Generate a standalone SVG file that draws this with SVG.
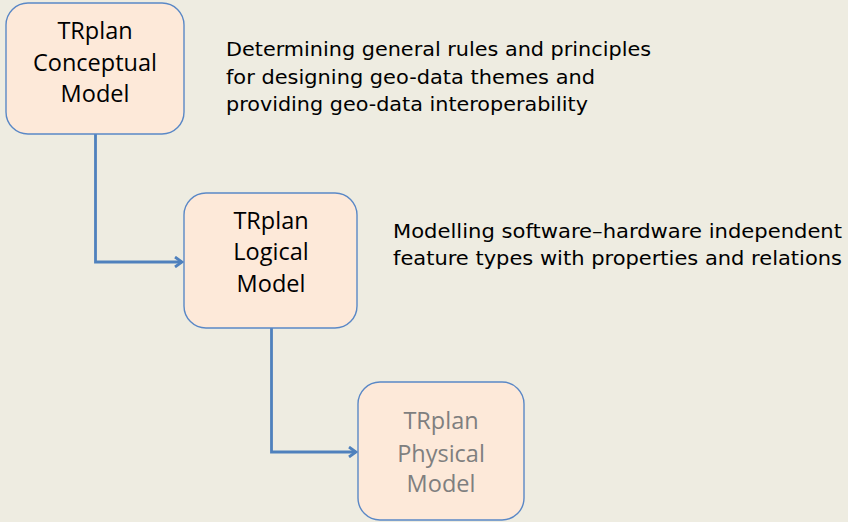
<svg xmlns="http://www.w3.org/2000/svg" width="848" height="522" viewBox="0 0 848 522">
<defs>
<style>
.box{fill:#fde9d9;stroke:#5a88c6;stroke-width:1.4}
.lbl{font-family:"Open Sans","Liberation Sans",sans-serif;font-size:23.5px;fill:#000;text-anchor:middle}
.grey{fill:#7f7f7f}
.desc{font-family:"DejaVu Sans","Liberation Sans",sans-serif;font-size:20px;fill:#000}
.conn{fill:none;stroke:#4f81bd;stroke-width:2.8}
</style>
<marker id="arr" markerWidth="12" markerHeight="12" refX="10" refY="6" orient="auto" markerUnits="userSpaceOnUse">
<path d="M3,1 L10,6 L3,11" fill="none" stroke="#4f81bd" stroke-width="2.8"/>
</marker>
</defs>
<rect width="848" height="522" fill="#eeece1"/>
<g id="connectors">
<path class="conn" d="M95.5,134 V262 H182" marker-end="url(#arr)"/>
<path class="conn" d="M271.5,328 V452 H356" marker-end="url(#arr)"/>
</g>
<g id="conceptual">
<rect class="box" x="6" y="3" width="178" height="131" rx="22"/>
<text class="lbl" x="95" y="39">TRplan</text>
<text class="lbl" x="95" y="71">Conceptual</text>
<text class="lbl" x="95" y="102">Model</text>
</g>
<g id="logical">
<rect class="box" x="184" y="193" width="173" height="135" rx="22"/>
<text class="lbl" x="271" y="229">TRplan</text>
<text class="lbl" x="271" y="260">Logical</text>
<text class="lbl" x="271" y="292">Model</text>
</g>
<g id="physical">
<rect class="box" x="358" y="382" width="166" height="138" rx="22"/>
<text class="lbl grey" x="441" y="429">TRplan</text>
<text class="lbl grey" x="441" y="462">Physical</text>
<text class="lbl grey" x="441" y="492">Model</text>
</g>
<g id="desc-conceptual">
<text class="desc" x="226" y="56" textLength="425" lengthAdjust="spacingAndGlyphs">Determining general rules and principles</text>
<text class="desc" x="226" y="84" textLength="369" lengthAdjust="spacingAndGlyphs">for designing geo-data themes and</text>
<text class="desc" x="226" y="111" textLength="362" lengthAdjust="spacingAndGlyphs">providing geo-data interoperability</text>
</g>
<g id="desc-logical">
<text class="desc" x="393" y="238" textLength="449" lengthAdjust="spacingAndGlyphs">Modelling software–hardware independent</text>
<text class="desc" x="393" y="265" textLength="449" lengthAdjust="spacingAndGlyphs">feature types with properties and relations</text>
</g>
</svg>
